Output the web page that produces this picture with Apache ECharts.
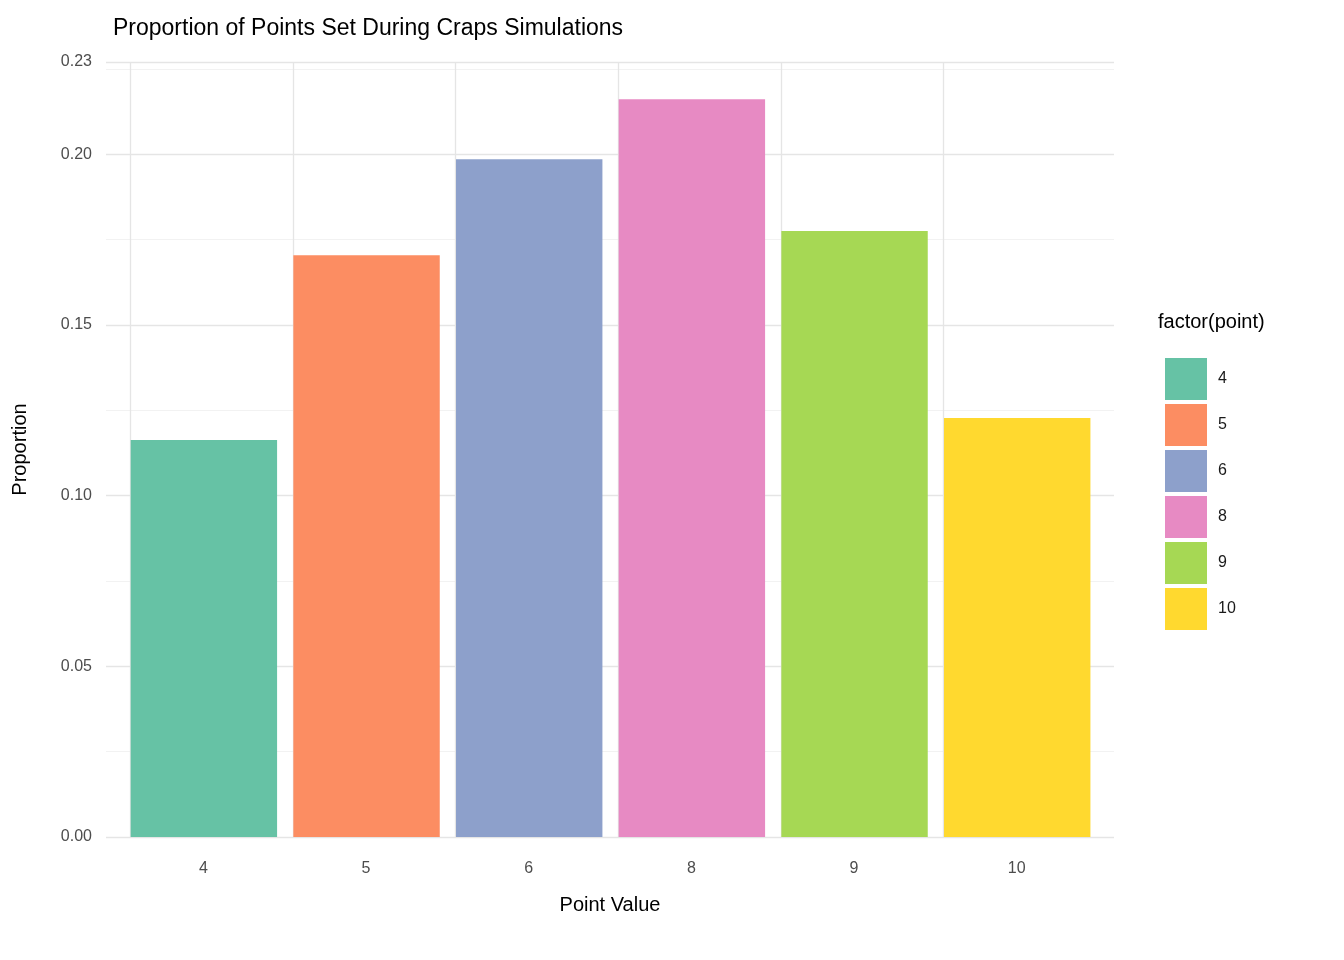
<!DOCTYPE html>
<html><head><meta charset="utf-8">
<script src="https://cdn.jsdelivr.net/npm/echarts@6/dist/echarts.min.js"></script>
<style>html,body{margin:0;background:#fff}#c{width:1344px;height:960px}</style>
</head><body><div id="c"></div>
<script>
const points = ['4', '5', '6', '8', '9', '10'];
const proportions = [0.1163, 0.1704, 0.1985, 0.2161, 0.1775, 0.1227];
const colors = ['#66C2A5', '#FC8D62', '#8DA0CB', '#E78AC3', '#A6D854', '#FFD92F'];

const font = 'Arial, "Liberation Sans", sans-serif';
const chart = echarts.init(document.getElementById('c'));

const barSeries = points.map((p, i) => ({
  name: p, type: 'bar', stack: 'all', xAxisIndex: 1, yAxisIndex: 2,
  barWidth: '90%', z: 3,
  itemStyle: { color: colors[i] },
  data: points.map((_, j) => j === i ? proportions[i] : '-')
}));

chart.setOption({
  animation: false,
  color: colors,
  title: { text: 'Proportion of Points Set During Craps Simulations', left: 108, top: 12,
    textStyle: { fontFamily: font, fontSize: 23, fontWeight: 'normal', color: '#000' } },
  legend: {
    data: points, orient: 'vertical', left: 1160, top: 353, itemWidth: 42, itemHeight: 42,
    itemGap: 4, icon: 'rect', selectedMode: false,
    textStyle: { fontFamily: font, fontSize: 16, color: '#1a1a1a', padding: [0, 0, 0, 6] }
  },
  graphic: [{ type: 'text', left: 1158, top: 312,
    style: { text: 'factor(point)', font: '20px ' + font, fill: '#000' } }],
  grid: [
    { left: 106, right: 230, top: 62, bottom: 123 },
    { left: 122, right: 246, top: 62, bottom: 123 }
  ],
  xAxis: [
    { type: 'value', gridIndex: 0, show: false, min: 0, max: 1 },
    { type: 'category', gridIndex: 1, data: points,
      axisLine: { show: false }, axisTick: { show: false },
      axisLabel: { fontFamily: font, fontSize: 16, color: '#4d4d4d', margin: 24 },
      name: 'Point Value', nameLocation: 'middle', nameGap: 58,
      nameTextStyle: { fontFamily: font, fontSize: 20, color: '#000' } }
  ],
  yAxis: [
    { type: 'value', gridIndex: 0, min: 0, max: 0.227, interval: 0.025,
      axisLabel: { show: false }, axisLine: { show: false }, axisTick: { show: false },
      splitLine: { lineStyle: { color: '#f2f2f2', width: 1 } } },
    { type: 'value', gridIndex: 0, min: 0, max: 0.227, interval: 0.05, position: 'left',
      axisLine: { show: false }, axisTick: { show: false },
      axisLabel: { fontFamily: font, fontSize: 16, color: '#4d4d4d', margin: 14,
        formatter: v => v.toFixed(2) },
      splitLine: { lineStyle: { color: '#e5e5e5', width: 1.3 } },
      name: 'Proportion', nameLocation: 'middle', nameGap: 76, nameRotate: 90,
      nameTextStyle: { fontFamily: font, fontSize: 20, color: '#000' } },
    { type: 'value', gridIndex: 1, min: 0, max: 0.227, show: false, splitLine: { show: false } }
  ],
  series: [{
    type: 'bar', xAxisIndex: 1, yAxisIndex: 2, data: [], z: 1, silent: true,
    markLine: { silent: true, symbol: 'none', label: { show: false }, z: 1,
      lineStyle: { color: '#e5e5e5', width: 1.3, type: 'solid' },
      data: points.map(p => ({ xAxis: p })) }
  }].concat(barSeries)
});
</script></body></html>
